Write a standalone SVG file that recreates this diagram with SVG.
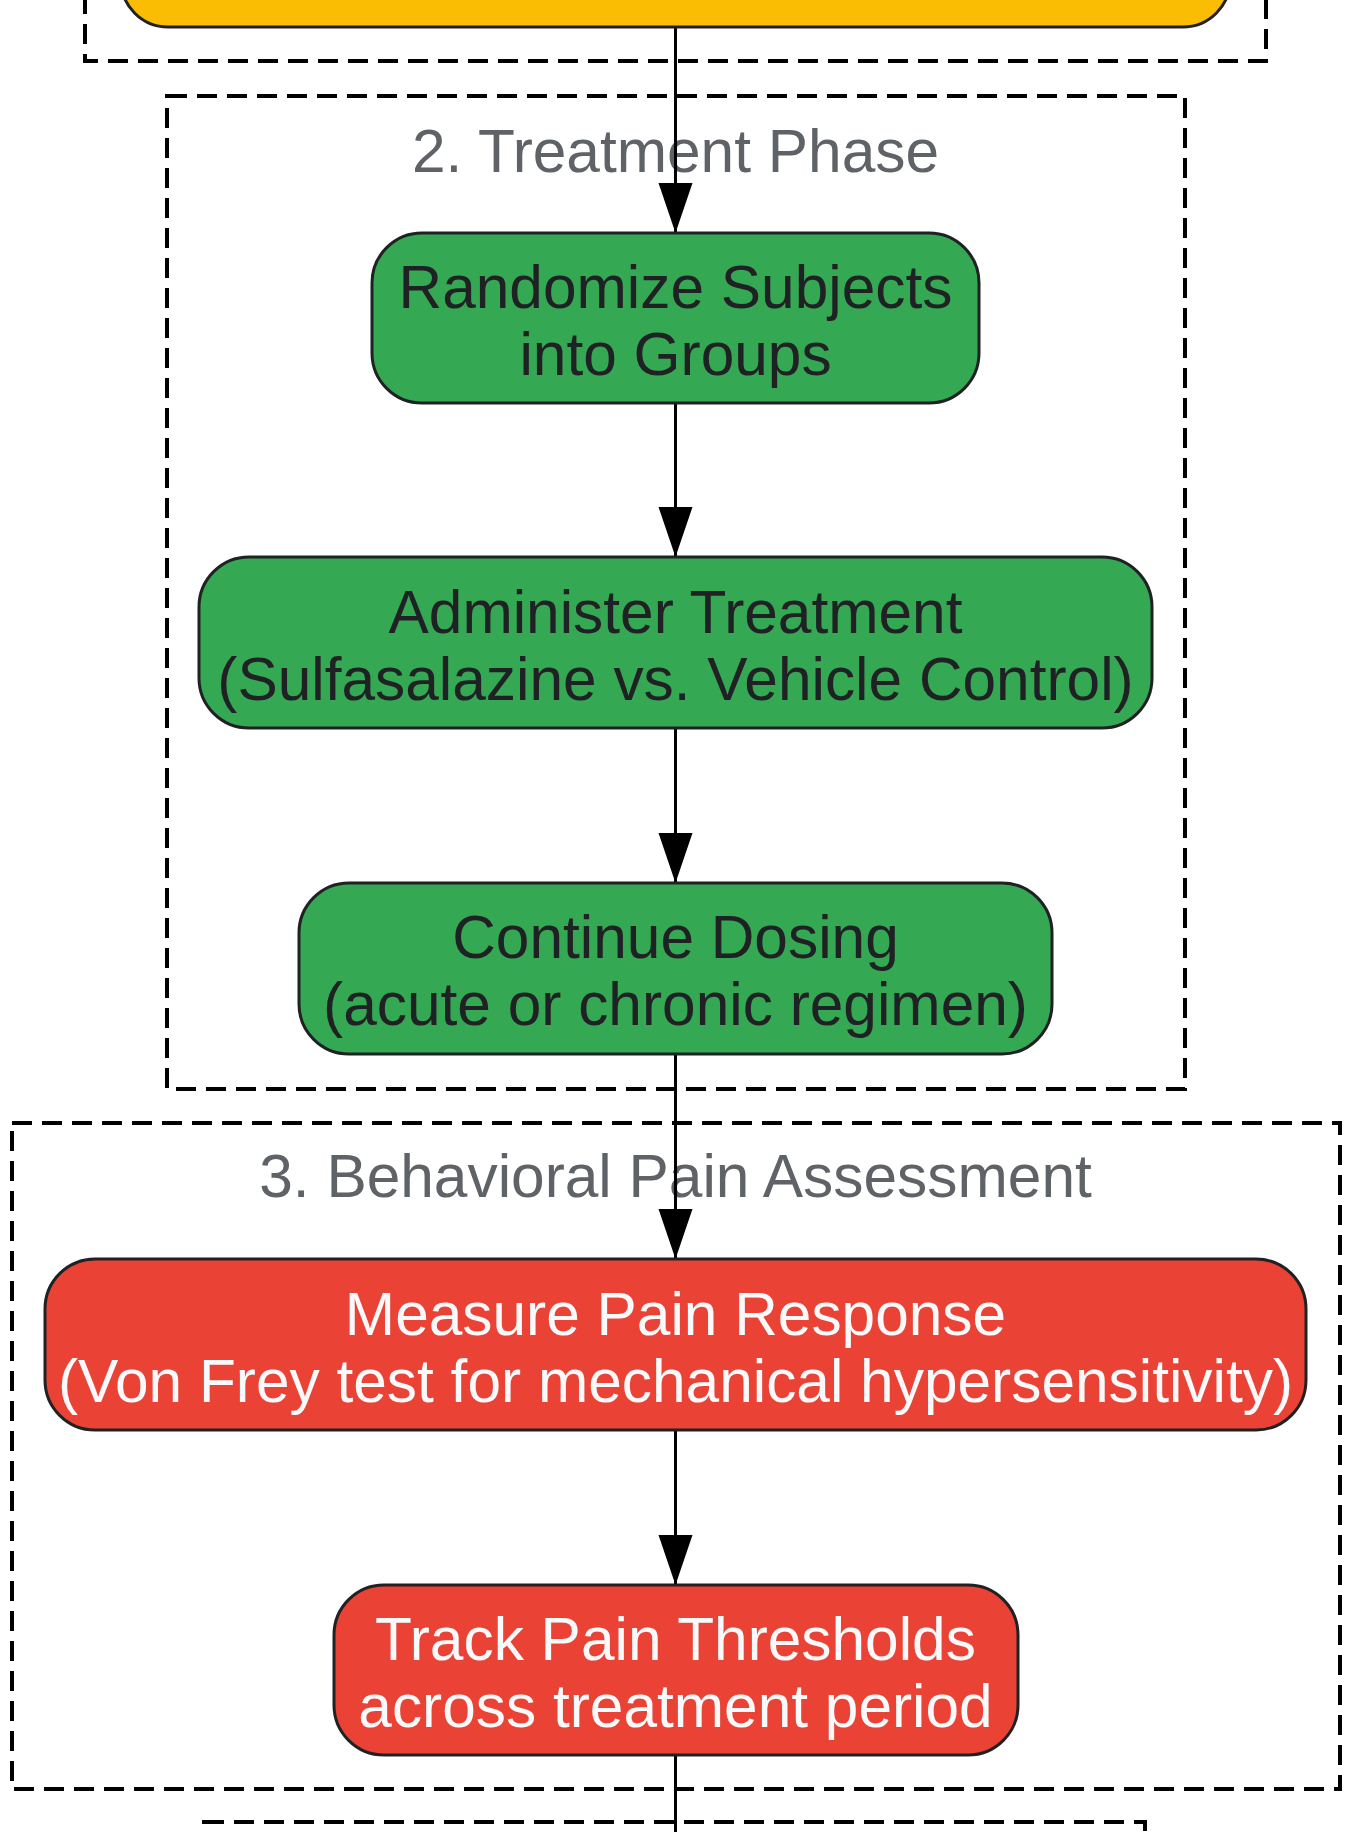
<svg xmlns="http://www.w3.org/2000/svg" width="1348" height="1832" viewBox="0 0 1348 1832">
<style>
.cluster{fill:none;stroke:#000;stroke-width:4;stroke-dasharray:20 10}
.clabel{font-family:"Liberation Sans",Arial,sans-serif;font-size:60.4px;fill:#5f6368;text-anchor:middle}
.node rect{stroke:#202124;stroke-width:3}
.green rect{fill:#34a853}
.red rect{fill:#ea4335}
.yellow rect{fill:#fbbc04}
.node text{font-family:"Liberation Sans",Arial,sans-serif;font-size:60.4px;text-anchor:middle}
.green text{fill:#202124}
.red text{fill:#f8f9fa}
.edge{stroke:#000;stroke-width:3;fill:none}
</style>
<defs>
<marker id="arrow" markerUnits="userSpaceOnUse" markerWidth="52" markerHeight="36" refX="50" refY="17" orient="auto" viewBox="0 0 52 36">
<path d="M0,0 L50,17 L0,34 z" fill="#000"/>
</marker>
</defs>
<rect width="1348" height="1832" fill="#fff"/>
<g id="clusters">
<rect id="cluster1" class="cluster" x="85" y="-200" width="1181" height="261"/>
<g id="cluster2"><rect class="cluster" x="167" y="96" width="1018" height="993"/><text class="clabel" x="675.5" y="172">2. Treatment Phase</text></g>
<g id="cluster3"><rect class="cluster" x="12" y="1123" width="1328" height="666"/><text class="clabel" x="675.5" y="1197">3. Behavioral Pain Assessment</text></g>
<rect id="cluster4" class="cluster" x="204" y="1822" width="941" height="200"/>
</g>
<g id="edges">
<line class="edge" x1="675.5" y1="27" x2="675.5" y2="233" marker-end="url(#arrow)"/>
<line class="edge" x1="675.5" y1="403" x2="675.5" y2="557" marker-end="url(#arrow)"/>
<line class="edge" x1="675.5" y1="728" x2="675.5" y2="883" marker-end="url(#arrow)"/>
<line class="edge" x1="675.5" y1="1054" x2="675.5" y2="1259" marker-end="url(#arrow)"/>
<line class="edge" x1="675.5" y1="1430" x2="675.5" y2="1585" marker-end="url(#arrow)"/>
<line class="edge" x1="675.5" y1="1755" x2="675.5" y2="1840"/>
</g>
<g id="node-top" class="node yellow"><rect x="121" y="-143" width="1109" height="170" rx="47" ry="47"/></g>
<g id="node-randomize" class="node green"><rect x="372" y="233" width="607" height="170" rx="50" ry="50"/><text x="675.5" y="308">Randomize Subjects</text><text x="675.5" y="375">into Groups</text></g>
<g id="node-administer" class="node green"><rect x="199" y="557" width="953" height="171" rx="50" ry="50"/><text x="675.5" y="633">Administer Treatment</text><text x="675.5" y="700">(Sulfasalazine vs. Vehicle Control)</text></g>
<g id="node-continue" class="node green"><rect x="299" y="883" width="753" height="171" rx="50" ry="50"/><text x="675.5" y="958">Continue Dosing</text><text x="675.5" y="1025">(acute or chronic regimen)</text></g>
<g id="node-measure" class="node red"><rect x="45" y="1259" width="1261" height="171" rx="50" ry="50"/><text x="675.5" y="1335">Measure Pain Response</text><text x="675.5" y="1402">(Von Frey test for mechanical hypersensitivity)</text></g>
<g id="node-track" class="node red"><rect x="334" y="1585" width="684" height="170" rx="50" ry="50"/><text x="675.5" y="1660">Track Pain Thresholds</text><text x="675.5" y="1727">across treatment period</text></g>
</svg>
